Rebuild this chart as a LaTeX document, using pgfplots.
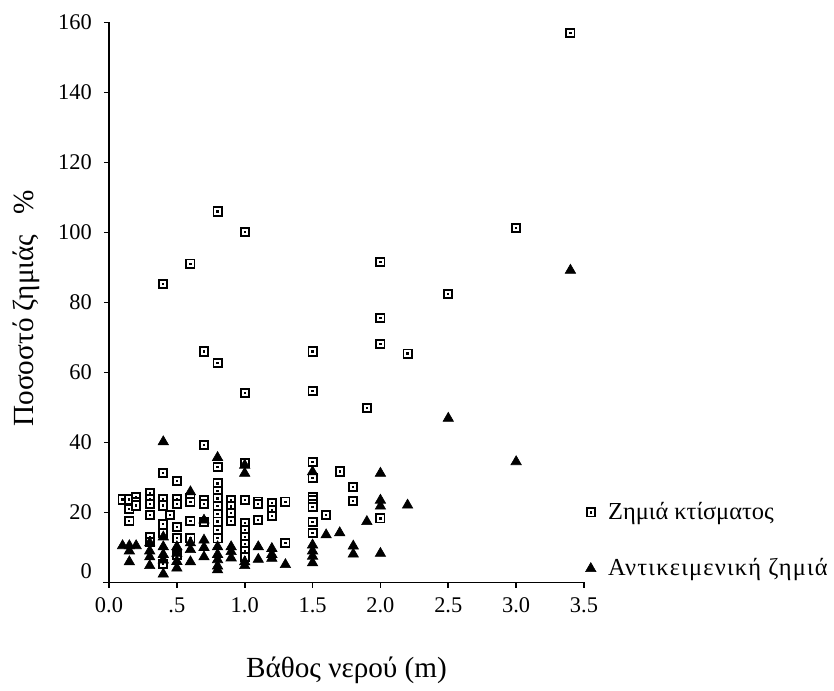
\documentclass[border=0pt]{standalone}
\usepackage{fontspec}
\setmainfont{Liberation Serif}
\usepackage{pgfplots}
\pgfplotsset{compat=1.18}

% open square with a small dot in the middle
\pgfdeclareplotmark{sqdot}{%
  \pgfsetfillcolor{white}%
  \pgfpathrectangle{\pgfpoint{-\pgfplotmarksize}{-\pgfplotmarksize}}{\pgfpoint{2\pgfplotmarksize}{2\pgfplotmarksize}}%
  \pgfusepathqfillstroke
  \pgfsetfillcolor{black}%
  \pgfpathrectangle{\pgfpoint{-0.55pt}{-0.55pt}}{\pgfpoint{1.1pt}{1.1pt}}%
  \pgfusepathqfill
  \pgfsetfillcolor{white}%
}

\begin{document}
\begin{tikzpicture}
\begin{axis}[
  at={(0,0)}, anchor=south west,
  scale only axis, width=237.5pt, height=280pt,
  xmin=0, xmax=3.5, ymin=0, ymax=160,
  clip=false,
  axis lines=left,
  axis line style={-, line width=0.9pt},
  x axis line style={shorten <=-3pt},
  every tick/.style={black, line width=0.8pt},
  tick align=outside,
  major tick length=2.6pt,
  xtick={0,0.5,1,1.5,2,2.5,3,3.5},
  xticklabels={0.0,.5,1.0,1.5,2.0,2.5,3.0,3.5},
  ytick={0,20,40,60,80,100,120,140,160},
  yticklabels={\raisebox{11pt}{0},20,40,60,80,100,120,140,160},
  /pgf/number format/assume math mode=true,
  ticklabel style={font=\fontsize{11.2pt}{13pt}\selectfont},
  xticklabel style={yshift=-1.5pt},
  yticklabel style={xshift=-2.5pt},
  xlabel={Βάθος νερού (m)},
  ylabel={Ποσοστό ζημιάς\hspace{0.7em}\%},
  label style={font=\fontsize{14.6pt}{17pt}\selectfont},
  xlabel style={at={(axis description cs:0.5,-0.157)}, anchor=center},
  ylabel style={at={(axis description cs:-0.173,0.49)}, anchor=center, rotate=0},
  legend image code/.code={%
    \draw[#1] plot coordinates {(0pt,0pt)};
    \path (-3pt,0pt) (6.5pt,0pt);},
  legend style={at={(axis description cs:1.0,0.151)}, anchor=north west,
    draw=none, fill=none, inner sep=0pt,
    font=\fontsize{12.2pt}{14pt}\selectfont,
    row sep=14pt},
  legend cell align=left,
]
% building damage
\addplot[only marks, mark=sqdot, mark size=2.05pt,
  mark options={draw=black, line width=0.95pt}] coordinates {
 (0.1,23.7)
 (0.15,23.7) (0.15,21.0) (0.15,17.6)
 (0.2,24.5) (0.2,23.0) (0.2,22.0)
 (0.3,25.6) (0.3,23.7) (0.3,22.5) (0.3,19.3) (0.3,12.9) (0.3,11.5)
 (0.4,85.2) (0.4,31.2) (0.4,23.7) (0.4,22.0) (0.4,16.6) (0.4,14.1) (0.4,5.3)
 (0.45,19.3)
 (0.5,29.0) (0.5,23.7) (0.5,22.5) (0.5,15.9) (0.5,12.6) (0.5,7.8)
 (0.6,91.1) (0.6,24.1) (0.6,23.0) (0.6,17.6) (0.6,12.6)
 (0.7,66.0) (0.7,39.2) (0.7,23.5) (0.7,22.5) (0.7,17.3)
 (0.8,106.0) (0.8,62.7) (0.8,32.9) (0.8,28.3) (0.8,26.2) (0.8,24.0) (0.8,21.8)
 (0.8,19.5) (0.8,17.4) (0.8,15.0) (0.8,12.6)
 (0.9,23.5) (0.9,21.7) (0.9,19.9) (0.9,17.6)
 (1.0,100.1) (1.0,54.2) (1.0,34.2) (1.0,23.5) (1.0,17.0) (1.0,15.0) (1.0,13.0)
 (1.0,11.0) (1.0,9.0) (1.0,7.3)
 (1.1,23.1) (1.1,22.5) (1.1,17.8)
 (1.2,22.6) (1.2,20.8) (1.2,19.0)
 (1.3,23.1) (1.3,11.2)
 (1.5,66.0) (1.5,54.7) (1.5,34.4) (1.5,29.9) (1.5,24.5) (1.5,23.5) (1.5,22.5)
 (1.5,21.5) (1.5,17.2) (1.5,14.2)
 (1.6,19.3) (1.7,31.7) (1.8,27.3) (1.8,23.2) (1.9,49.9)
 (2.0,91.6) (2.0,75.6) (2.0,68.2) (2.0,18.3)
 (2.2,65.4) (2.5,82.5) (3.0,101.3) (3.4,157.0)
};
\addlegendentry{Ζημιά κτίσματος}
% contents damage
\addplot[only marks, mark=triangle*, mark size=3pt,
  mark options={draw=black, fill=black, line width=0.3pt}] coordinates {
 (0.1,10.5)
 (0.15,10.5) (0.15,9.0) (0.15,5.9)
 (0.2,10.5)
 (0.3,11.3) (0.3,9.0) (0.3,7.3) (0.3,4.8)
 (0.4,40.2) (0.4,13.0) (0.4,10.2) (0.4,8.0) (0.4,6.4) (0.4,2.4)
 (0.5,10.2) (0.5,8.3) (0.5,6.0) (0.5,4.1)
 (0.6,25.9) (0.6,11.3) (0.6,9.4) (0.6,5.9)
 (0.7,17.8) (0.7,12.1) (0.7,10.0) (0.7,7.3)
 (0.8,35.7) (0.8,10.2) (0.8,8.0) (0.8,6.5) (0.8,4.7) (0.8,3.6)
 (0.9,10.2) (0.9,8.8) (0.9,7.0)
 (1.0,33.5) (1.0,31.2) (1.0,5.9) (1.0,4.8)
 (1.1,10.2) (1.1,6.6)
 (1.2,9.7) (1.2,8.0) (1.2,6.9)
 (1.3,5.1)
 (1.5,31.6) (1.5,10.7) (1.5,9.0) (1.5,7.5) (1.5,5.6)
 (1.6,13.6) (1.7,14.2) (1.8,10.4) (1.8,8.1) (1.9,17.4)
 (2.0,31.2) (2.0,23.5) (2.0,21.8) (2.0,8.3)
 (2.2,22.1) (2.5,46.9) (3.0,34.5) (3.4,89.2)
};
\addlegendentry{{\addfontfeatures{LetterSpace=5}Αντικειμενική ζημιά}}
\end{axis}
\useasboundingbox (-54.5pt,-52.25pt) rectangle (362.5pt,291.25pt);
\end{tikzpicture}
\end{document}
